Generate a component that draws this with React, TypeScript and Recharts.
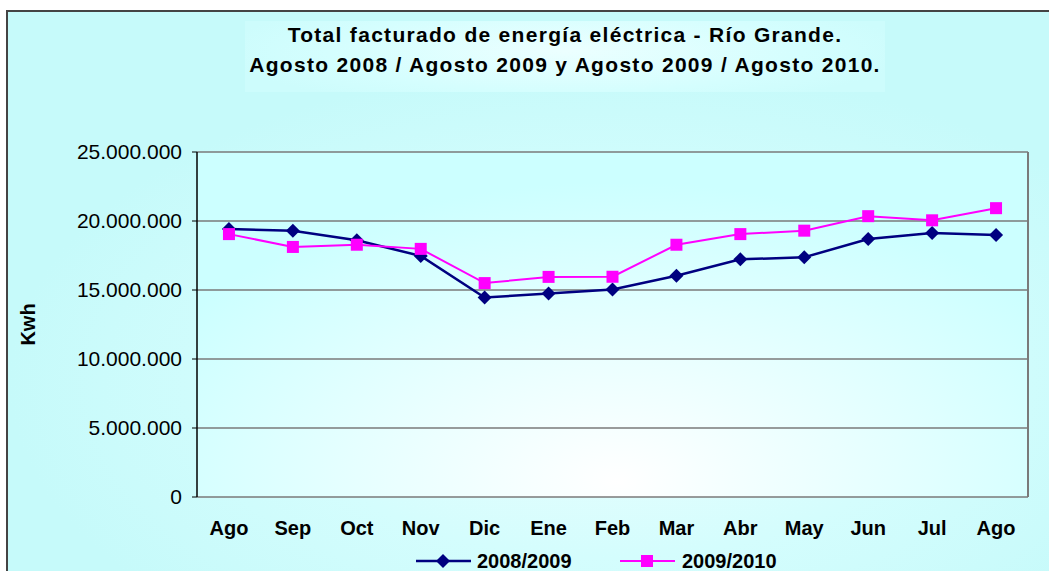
import React from 'react';
import { LineChart, Line, XAxis, YAxis, CartesianGrid, ReferenceLine } from 'recharts';

const months = ['Ago', 'Sep', 'Oct', 'Nov', 'Dic', 'Ene', 'Feb', 'Mar', 'Abr', 'May', 'Jun', 'Jul', 'Ago'];
const serie0809 = [19420000, 19300000, 18600000, 17470000, 14450000, 14750000, 15030000, 16030000, 17220000, 17370000, 18700000, 19130000, 18980000];
const serie0910 = [19050000, 18120000, 18280000, 17980000, 15500000, 15950000, 15960000, 18280000, 19050000, 19300000, 20350000, 20050000, 20930000];
const yTicks = [0, 5000000, 10000000, 15000000, 20000000, 25000000];
const boundaryTicks = [0, 1, 2, 3, 4, 5, 6, 7, 8, 9, 10, 11, 12, 13];
const labelTicks = months.map((_, i) => i + 0.5);

const FONT = '"Liberation Sans", Arial, sans-serif';
const NAVY = '#000080';
const MAGENTA = '#FF00FF';

const data = months.map((m, i) => ({
  x: i + 0.5,
  mes: m,
  s0809: serie0809[i],
  s0910: serie0910[i],
}));

const fmt = (v: number) => String(v).replace(/\B(?=(\d{3})+(?!\d))/g, '.');

// diamond marker
const Diamond = (props: any) => {
  const { cx, cy, index } = props;
  if (cx == null || cy == null) return <g key={`d-${index}`} />;
  const r = 7;
  return <path key={`d-${index}`} d={`M${cx},${cy - r}L${cx + r},${cy}L${cx},${cy + r}L${cx - r},${cy}Z`} fill={NAVY} />;
};

// square marker
const Square = (props: any) => {
  const { cx, cy, index } = props;
  if (cx == null || cy == null) return <g key={`s-${index}`} />;
  const h = 6;
  return <rect key={`s-${index}`} x={cx - h} y={cy - h} width={h * 2} height={h * 2} fill={MAGENTA} />;
};

const YLabel = (props: any) => {
  const vb = props.viewBox || { y: 152, height: 345 };
  const cy = vb.y + vb.height / 2;
  return (
    <text x={28} y={cy} transform={`rotate(-90, 28, ${cy})`} textAnchor="middle" dominantBaseline="central"
      style={{ fontFamily: FONT, fontSize: 20, fontWeight: 'bold', fill: '#000' }}>
      Kwh
    </text>
  );
};

const App: React.FC = () => {
  return (
    <div style={{ position: 'fixed', left: 0, top: 0, width: 1049, height: 571, overflow: 'hidden', background: '#fff', fontFamily: FONT }}>
      {/* chart frame */}
      <div style={{
        position: 'absolute', left: 6, top: 10, width: 1100, height: 700,
        border: '2px solid #444',
        background: 'radial-gradient(ellipse 600px 320px at 600px 370px, #eefefe 0%, #d4fdfd 55%, #c6fafa 100%)',
      }} />
      {/* title box */}
      <div style={{
        position: 'absolute', left: 245, top: 21, width: 640, height: 71,
        background: 'radial-gradient(ellipse 340px 60px at 320px 30px, #ecffff 0%, #d4fefe 70%, #cdfcfc 100%)',
      }} />
      <div style={{ position: 'absolute', left: 0, top: 20, width: 1130, textAlign: 'center', fontSize: 21, fontWeight: 'bold', lineHeight: '30px', letterSpacing: 1.3, color: '#000' }}>
        Total facturado de energía eléctrica - Río Grande.<br />
        Agosto 2008 / Agosto 2009 y Agosto 2009 / Agosto 2010.
      </div>
      {/* plot area background */}
      <div style={{
        position: 'absolute', left: 197, top: 152, width: 831, height: 345,
        background: 'radial-gradient(ellipse 520px 300px at 420px 330px, #ffffff 0%, #e6ffff 50%, #ccffff 100%)',
      }} />
      <div style={{ position: 'absolute', left: 0, top: 0 }}>
        <LineChart width={1049} height={571} data={data} margin={{ top: 152, right: 21, bottom: 34, left: 0 }}>
          <CartesianGrid vertical={false} stroke="#7a7a7a" strokeWidth={1.5} yAxisId="y" xAxisId="main" />
          <XAxis xAxisId="main" dataKey="x" type="number" domain={[0, 13]} ticks={boundaryTicks} tick={false}
            height={0} tickSize={7} stroke="#000" axisLine={{ stroke: '#000', strokeWidth: 1.5 }} tickLine={{ stroke: '#000' }} />
          <XAxis xAxisId="labels" dataKey="x" type="number" domain={[0, 13]} ticks={labelTicks}
            tickFormatter={(v: number) => months[Math.floor(v)]} axisLine={false} tickLine={false}
            height={40} tickSize={0} tickMargin={24}
            tick={{ fontFamily: FONT, fontSize: 20, fontWeight: 'bold', fill: '#000' }} />
          <YAxis yAxisId="y" width={197} domain={[0, 25000000]} ticks={yTicks} tickFormatter={fmt}
            tickSize={5} tickMargin={10} axisLine={{ stroke: '#000', strokeWidth: 1.5 }} tickLine={{ stroke: '#000' }}
            tick={{ fontFamily: FONT, fontSize: 21, fill: '#000' }}
            label={<YLabel />} />
          <ReferenceLine xAxisId="main" yAxisId="y" x={13} stroke="#7a7a7a" strokeWidth={2} />
          <Line xAxisId="main" yAxisId="y" dataKey="s0809" name="2008/2009" type="linear" stroke={NAVY} strokeWidth={2.5}
            dot={Diamond} activeDot={false} isAnimationActive={false} />
          <Line xAxisId="main" yAxisId="y" dataKey="s0910" name="2009/2010" type="linear" stroke={MAGENTA} strokeWidth={2}
            dot={Square} activeDot={false} isAnimationActive={false} />
        </LineChart>
      </div>
      {/* legend */}
      <svg width={1049} height={26} style={{ position: 'absolute', left: 0, top: 545 }}>
        <line x1={416} x2={471} y1={16} y2={16} stroke={NAVY} strokeWidth={2.5} />
        <path d="M443,9L450,16L443,23L436,16Z" fill={NAVY} />
        <text x={477} y={23} style={{ fontFamily: FONT, fontSize: 20, fontWeight: 'bold' }}>2008/2009</text>
        <line x1={620} x2={675} y1={16} y2={16} stroke={MAGENTA} strokeWidth={2} />
        <rect x={641} y={10} width={12} height={12} fill={MAGENTA} />
        <text x={682} y={23} style={{ fontFamily: FONT, fontSize: 20, fontWeight: 'bold' }}>2009/2010</text>
      </svg>
    </div>
  );
};

export default App;
